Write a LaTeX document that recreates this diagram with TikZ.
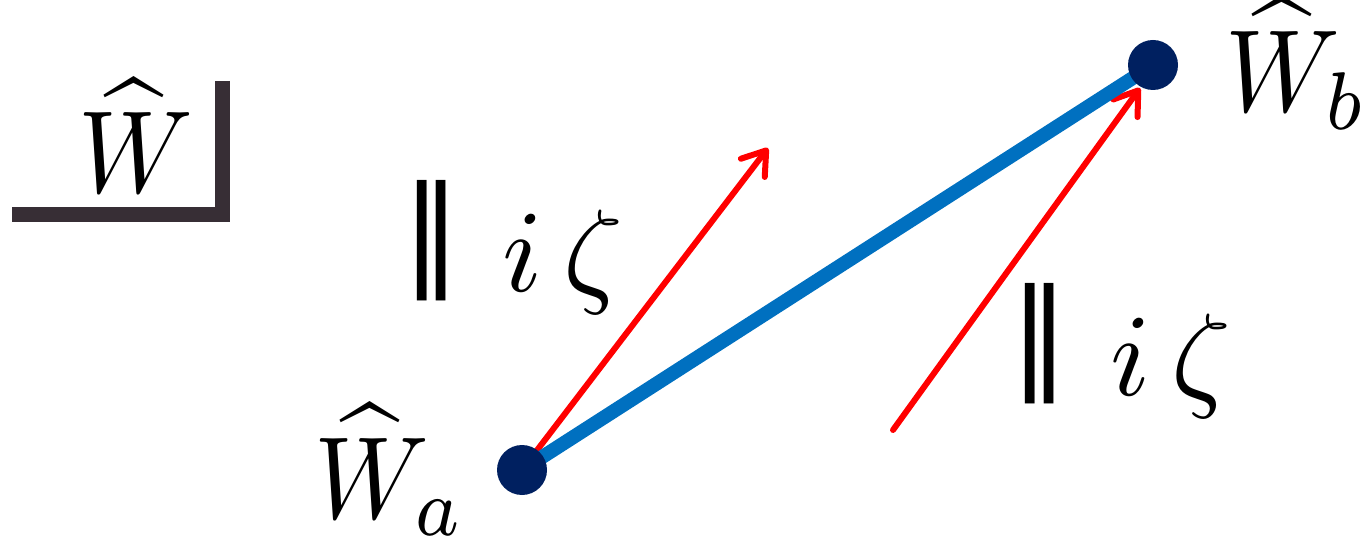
\documentclass[tikz,border=0pt]{standalone}
\usepackage{graphicx}
\usepackage{fontspec}
\newfontfamily\dejavu{DejaVu Sans}
\usetikzlibrary{arrows.meta}
\definecolor{cornercol}{HTML}{372E35}
\definecolor{dotcol}{HTML}{002060}
\definecolor{linecol}{HTML}{0070C0}
\definecolor{arrcol}{HTML}{FF0000}
\newcommand{\bigtxt}[1]{\scalebox{11.7}{#1}}
\newcommand{\bigW}[1]{\scalebox{10.6}[11.7]{#1}}
\newcommand{\Wh}{\rlap{$\kern2.9pt\widehat{\vphantom{W}\phantom{o}}$}W}
\newcommand{\pbar}{\raisebox{1.7pt}{\scalebox{1}[1.03]{\dejavu ‖}}}
\tikzset{
  lbl/.style={inner sep=0pt, outer sep=0pt},
  dot/.style={circle, fill=dotcol, minimum size=50pt, inner sep=0pt},
  corner/.style={line width=15pt, draw=cornercol},
  seg/.style={line width=14pt, draw=linecol},
  redarr/.style={line width=6pt, draw=arrcol, line cap=round,
    -{Straight Barb[length=22pt,width=30pt,round]}},
}
\begin{document}
\begin{tikzpicture}[x=1pt,y=-1pt]
\useasboundingbox (0,0) rectangle (1368,545);
% corner symbol
\coordinate (ctop) at (222,81);
\coordinate (cbot) at (222,222);
\coordinate (cleft) at (12,215);
\coordinate (cright) at (222,215);
\draw[corner] (ctop) -- (cbot);
\draw[corner] (cleft) -- (cright);
\node[lbl, anchor=base west] (what) at (78,193) {\bigW{$\Wh$}};
% points
\coordinate (pa) at (522,470);
\coordinate (pb) at (1153,65);
% red arrows
\coordinate (r1s) at (525,466);
\coordinate (r1e) at (768,148);
\coordinate (r2s) at (893,430);
\coordinate (r2e) at (1140,88);
\draw[redarr] (r1s) -- (r1e);
\draw[redarr] (r2s) -- (r2e);
% blue segment
\draw[seg] (pa) -- (pb);
\node[dot] (a) at (pa) {};
\node[dot] (b) at (pb) {};
% labels
\node[lbl, anchor=base west] (wa) at (314,518) {\bigW{$\Wh_a$}};
\node[lbl, anchor=base east] (wb) at (1368,112) {\bigW{$\Wh_b$}};
\node[lbl, anchor=base west] (l1) at (402,292) {\bigtxt{\pbar\hspace{3.6pt}$i\hspace{1.8pt}\zeta$}};
\node[lbl, anchor=base west] (l2) at (1010,395) {\bigtxt{\pbar\hspace{3.6pt}$i\hspace{1.8pt}\zeta$}};
\end{tikzpicture}
\end{document}
